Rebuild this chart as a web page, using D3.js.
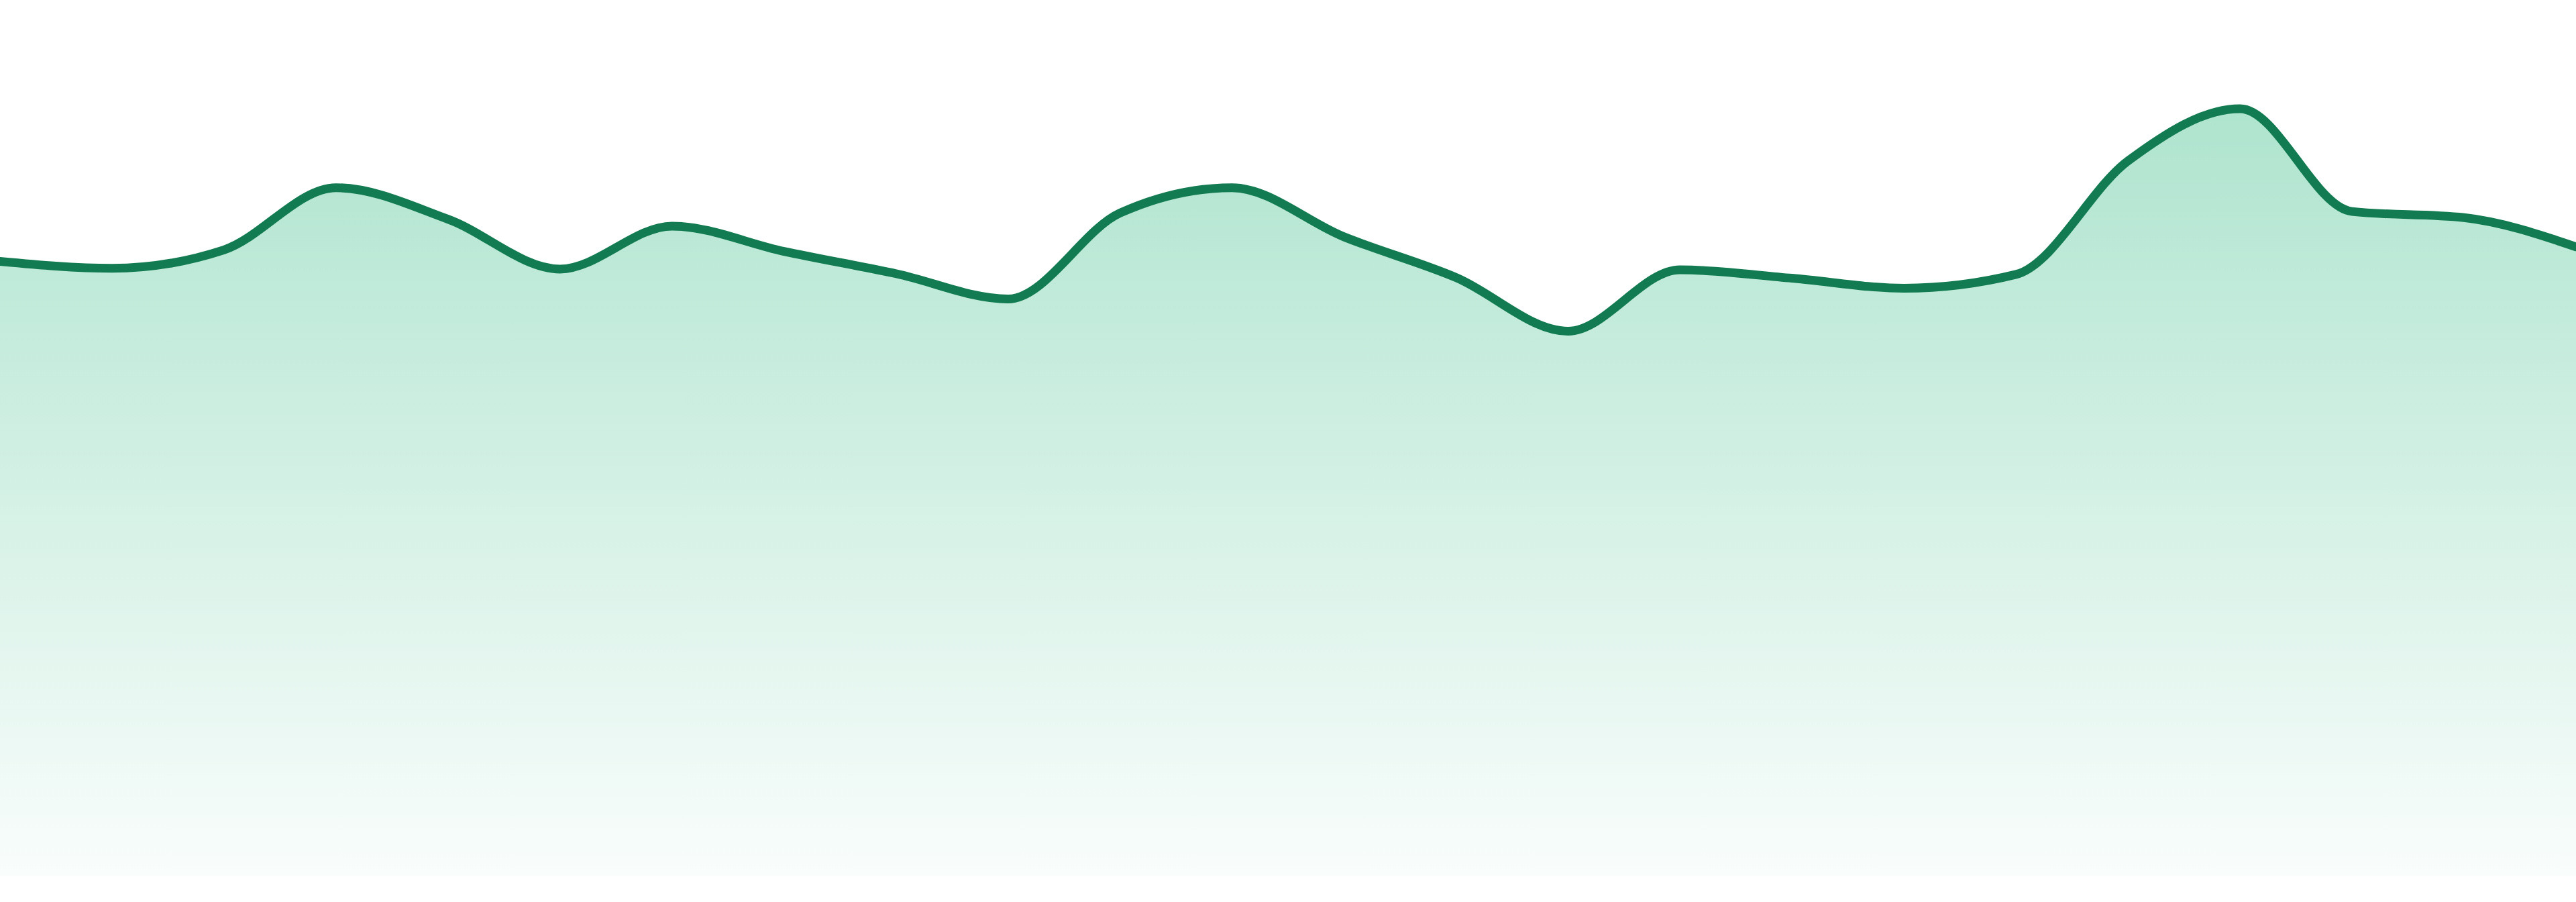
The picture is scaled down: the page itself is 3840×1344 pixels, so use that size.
<!DOCTYPE html>
<html>
<head>
<meta charset="utf-8">
<script src="https://cdn.jsdelivr.net/npm/d3@7"></script>
<style>
  html, body { margin: 0; padding: 0; background: #ffffff; }
  svg { display: block; }
</style>
</head>
<body>
<svg id="chart"></svg>
<script>
// ---- data ----
const categories = ["P1","P2","P3","P4","P5","P6","P7","P8","P9","P10","P11","P12",
                    "P13","P14","P15","P16","P17","P18","P19","P20","P21","P22","P23","P24"];
const values = [80.1, 79.2, 81.6, 89.7, 85.6, 79.1, 84.7, 81.4, 78.5, 75.2, 86.4, 89.7,
                83.3, 78.0, 71.0, 79.0, 77.9, 76.6, 78.4, 93.2, 100.0, 86.6, 85.8, 82.0];
const yDomain = [0, 100];

// ---- layout ----
const W = 3840, H = 1344;
const plotTop = 162, plotBottom = 1305;

const svg = d3.select("#chart").attr("width", W).attr("height", H);

const x = d3.scalePoint().domain(categories).range([0, W]);
const y = d3.scaleLinear().domain(yDomain).range([plotBottom, plotTop]);

const data = categories.map((c, i) => ({ c, v: values[i] }));

const defs = svg.append("defs");
const grad = defs.append("linearGradient")
  .attr("id", "fillGrad")
  .attr("x1", 0).attr("y1", 0).attr("x2", 0).attr("y2", 1);
grad.append("stop").attr("offset", "0%").attr("stop-color", "#40bf8c").attr("stop-opacity", 0.42);
grad.append("stop").attr("offset", "100%").attr("stop-color", "#40bf8c").attr("stop-opacity", 0.03);

const area = d3.area()
  .x(d => x(d.c))
  .y0(plotBottom)
  .y1(d => y(d.v))
  .curve(d3.curveMonotoneX);

const line = d3.line()
  .x(d => x(d.c))
  .y(d => y(d.v))
  .curve(d3.curveMonotoneX);

svg.append("path")
  .datum(data)
  .attr("d", area)
  .attr("fill", "url(#fillGrad)");

svg.append("path")
  .datum(data)
  .attr("d", line)
  .attr("fill", "none")
  .attr("stroke", "#127b51")
  .attr("stroke-width", 13)
  .attr("stroke-linejoin", "round")
  .attr("stroke-linecap", "round");
</script>
</body>
</html>
